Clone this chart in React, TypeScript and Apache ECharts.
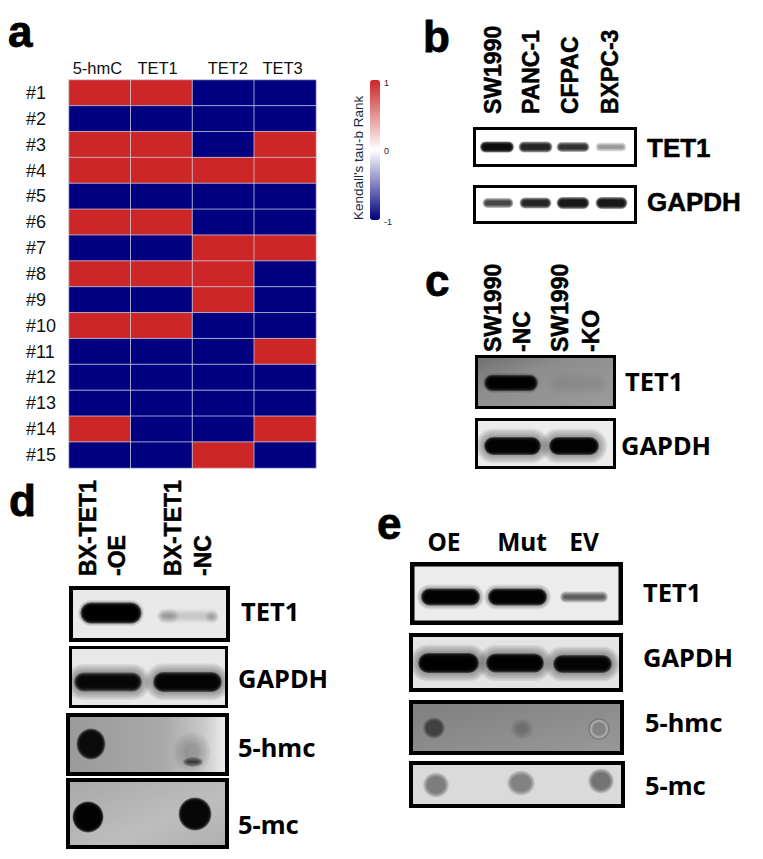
import React, { useEffect, useRef } from "react";
import * as echarts from "echarts";

// ---------- heatmap data (panel a) ----------
const sampleRows = ["#1","#2","#3","#4","#5","#6","#7","#8","#9","#10","#11","#12","#13","#14","#15"];
const markerCols = ["5-hmC", "TET1", "TET2", "TET3"];
const hmcValues = [1,-1,1,1,-1,1,-1,1,-1,1,-1,-1,-1,1,-1];
const tet1Values = [1,-1,1,1,-1,1,-1,1,-1,1,-1,-1,-1,-1,-1];
const tet2Values = [-1,-1,-1,1,-1,-1,1,1,1,-1,-1,-1,-1,-1,1];
const tet3Values = [-1,-1,1,1,-1,-1,1,-1,-1,-1,1,-1,-1,1,-1];
const colorbarTicks = ["1", "0", "-1"];

// ---------- blot signal strengths ----------
const bTet1 = [0.95, 0.85, 0.8, 0.38];
const bGapdh = [0.72, 0.85, 0.9, 0.9];
const cTet1 = [0.98, 0.07];
const cGapdh = [0.98, 0.98];
const dTet1 = [0.98, 0.14, 0.22, 0.18];
const dGapdh = [0.92, 0.96];
const dHmc = [0.92, 0.2, 0.62];
const dMc = [0.98, 0.96];
const eTet1 = [0.98, 0.98, 0.6];
const eGapdh = [0.98, 0.98, 0.96];
const eHmc = [0.5, 0.2, 0.1];
const eMc = [0.42, 0.38, 0.46];

// ---------- page layout ----------
type Mark = { x: number; y: number; w: number; h: number; soft: number; halo?: number; kind?: "spot" | "ring" };
type Panel = { frame: number[]; border: number; bg: any; values: number[]; marks: Mark[] };
const grad = (x2: number, y2: number, stops: [number, string][]) => ({
  type: "linear", x: 0, y: 0, x2, y2,
  colorStops: stops.map(([offset, color]) => ({ offset, color })),
});

const panels: Panel[] = [
  { frame: [473, 127, 637, 167], border: 3, bg: "#ffffff", values: bTet1, marks: [
    { x: 497, y: 147, w: 31, h: 8, soft: 1.5 }, { x: 535.5, y: 147, w: 31, h: 8, soft: 1.5 },
    { x: 573, y: 147, w: 30, h: 7, soft: 1.5 }, { x: 611, y: 147, w: 28, h: 6, soft: 1.5 } ] },
  { frame: [473, 185, 637, 224], border: 3, bg: "#ffffff", values: bGapdh, marks: [
    { x: 498, y: 203, w: 28, h: 7, soft: 1.5 }, { x: 535.5, y: 203, w: 29, h: 8, soft: 1.5 },
    { x: 573, y: 203, w: 30, h: 9, soft: 1.5 }, { x: 611.5, y: 203, w: 29, h: 9, soft: 1.5 } ] },
  { frame: [475, 355, 616, 409], border: 3, bg: grad(1, 1, [[0, "#6f6f6f"], [0.35, "#8d8d8d"], [1, "#9c9c9c"]]), values: cTet1, marks: [
    { x: 511, y: 383, w: 48, h: 11, soft: 2.5, halo: 3 }, { x: 578, y: 384, w: 50, h: 12, soft: 5 } ] },
  { frame: [475, 418, 616, 469], border: 3, bg: "#ececec", values: cGapdh, marks: [
    { x: 512.5, y: 446, w: 53, h: 14, soft: 2, halo: 7 }, { x: 574, y: 446, w: 46, h: 14, soft: 2, halo: 7 } ] },
  { frame: [69, 586, 230, 642], border: 4, bg: "#e9e9e9", values: dTet1, marks: [
    { x: 111, y: 613, w: 57, h: 17, soft: 2, halo: 3 }, { x: 188, y: 616, w: 56, h: 9, soft: 3 },
    { x: 168, y: 616, w: 16, h: 9, soft: 3, kind: "spot" }, { x: 212, y: 617, w: 10, h: 8, soft: 2, kind: "spot" } ] },
  { frame: [69, 646, 228, 708], border: 3, bg: "#e8e8e8", values: dGapdh, marks: [
    { x: 108, y: 682, w: 64, h: 15, soft: 2, halo: 7 }, { x: 187.5, y: 682, w: 65, h: 16, soft: 2, halo: 7 } ] },
  { frame: [66, 713, 229, 776], border: 4, bg: grad(1, 0, [[0, "#9a9a9a"], [0.6, "#a9a9a9"], [0.85, "#c8c8c8"], [1, "#efefef"]]), values: dHmc, marks: [
    { x: 91, y: 744, w: 26, h: 28, soft: 1.5, kind: "spot" },
    { x: 192, y: 752, w: 26, h: 28, soft: 6, kind: "spot" },
    { x: 193, y: 762, w: 16, h: 6, soft: 2, kind: "spot" } ] },
  { frame: [66, 778, 229, 849], border: 4, bg: grad(1, 1, [[0, "#a8a8a8"], [0.6, "#bdbdbd"], [1, "#b0b0b0"]]), values: dMc, marks: [
    { x: 88, y: 817, w: 28, h: 28, soft: 1.5, kind: "spot" }, { x: 195, y: 814, w: 30, h: 30, soft: 1.5, kind: "spot" } ] },
  { frame: [410, 562, 623, 625], border: 4.5, bg: "#ececec", values: eTet1, marks: [
    { x: 450.5, y: 597, w: 55, h: 13, soft: 2, halo: 4 }, { x: 517.5, y: 597, w: 55, h: 13, soft: 2, halo: 4 }, { x: 584, y: 597, w: 44, h: 7, soft: 2 } ] },
  { frame: [409, 633, 623, 692], border: 4, bg: "#e4e4e4", values: eGapdh, marks: [
    { x: 448.5, y: 663, w: 57, h: 16, soft: 2, halo: 7 }, { x: 515, y: 663, w: 54, h: 15, soft: 2, halo: 7 }, { x: 582.5, y: 664, w: 55, h: 14, soft: 2, halo: 7 } ] },
  { frame: [409, 700, 624, 755], border: 4, bg: grad(1, 1, [[0, "#7f7f7f"], [0.5, "#8c8c8c"], [1, "#999999"]]), values: eHmc, marks: [
    { x: 434, y: 728, w: 19, h: 18, soft: 1.5, kind: "spot" }, { x: 522, y: 729, w: 17, h: 15, soft: 3, kind: "spot" },
    { x: 599, y: 729, w: 16, h: 16, soft: 1, kind: "ring" } ] },
  { frame: [409, 761, 625, 808], border: 4, bg: "#dadada", values: eMc, marks: [
    { x: 436, y: 785, w: 22, h: 21, soft: 2, kind: "spot" }, { x: 521, y: 783, w: 24, h: 21, soft: 2, kind: "spot" },
    { x: 601, y: 781, w: 22, h: 21, soft: 2, kind: "spot" } ] },
];

const arial = "Liberation Sans, Arial, sans-serif";
const tahoma = "Noto Sans, DejaVu Sans, sans-serif";

const panelLetters: [string, number, number][] = [["a", 8, 53], ["b", 423, 58], ["c", 425, 302], ["d", 9, 522], ["e", 377, 545]];
const laneLabels: [string, number, number][] = [
  ["SW1990", 493, 114], ["PANC-1", 531, 114], ["CFPAC", 570, 114], ["BXPC-3", 610, 114],
  ["SW1990", 493, 352], ["-NC", 522, 352], ["SW1990", 560, 352], ["-KO", 591, 352],
  ["BX-TET1", 88, 576], ["-OE", 117, 576], ["BX-TET1", 173, 576], ["-NC", 203, 576],
];
const sideLabelsB: [string, number, number][] = [["TET1", 647, 148], ["GAPDH", 647, 202]];
const sideLabels: [string, number, number][] = [
  ["TET1", 625, 381], ["GAPDH", 621, 445],
  ["TET1", 241, 611], ["GAPDH", 238, 678], ["5-hmc", 238, 747], ["5-mc", 238, 824],
  ["TET1", 643, 592], ["GAPDH", 643, 657], ["5-hmc", 645, 722], ["5-mc", 645, 785],
];
const topLabels: [string, number, number][] = [["OE", 444, 541], ["Mut", 522, 541], ["EV", 584, 541]];
const colorbarTickY = [83, 151, 222];

const LAYERS = 6;

function softLayers(kind: string | undefined, cx: number, cy: number, w: number, h: number, soft: number, a: number, layers = LAYERS) {
  const perLayer = 1 - Math.pow(1 - Math.min(a, 0.985), 1 / layers);
  const fill = `rgba(0,0,0,${perLayer})`;
  const out: any[] = [];
  for (let k = 0; k < layers; k++) {
    const e = soft * (1 - (2 * k) / (layers - 1));
    const lw = Math.max(1, w + 2 * e);
    const lh = Math.max(1, h + 2 * e);
    if (kind === "spot") {
      out.push({ type: "ellipse", shape: { cx, cy, rx: lw / 2, ry: lh / 2 }, style: { fill } });
    } else {
      out.push({ type: "rect", shape: { x: cx - lw / 2, y: cy - lh / 2, width: lw, height: lh, r: lh / 2 }, style: { fill } });
    }
  }
  return out;
}

function buildOption() {
  const cols = [hmcValues, tet1Values, tet2Values, tet3Values];
  const heat: number[][] = [];
  cols.forEach((col, c) => col.forEach((v, r) => heat.push([c, r, v])));

  const grid: any[] = [{ left: 69, top: 80, width: 247, height: 388, show: false }];
  const xAxis: any[] = [{
    type: "category", gridIndex: 0, position: "top",
    data: [
      { value: markerCols[0], textStyle: { padding: [0, 5, 0, 0] } },
      { value: markerCols[1], textStyle: { padding: [0, 8, 0, 0] } },
      { value: markerCols[2], textStyle: { padding: [0, 0, 0, 9] } },
      { value: markerCols[3], textStyle: { padding: [0, 5, 0, 0] } },
    ],
    axisLine: { show: false }, axisTick: { show: false }, splitLine: { show: false },
    axisLabel: { margin: 4, fontSize: 16.5, color: "#111", fontFamily: arial, interval: 0 },
  }];
  const yAxis: any[] = [{
    type: "category", gridIndex: 0, inverse: true, data: sampleRows,
    axisLine: { show: false }, axisTick: { show: false }, splitLine: { show: false },
    axisLabel: { margin: 43, align: "left", fontSize: 18, color: "#111", fontFamily: arial, interval: 0 },
  }];
  const series: any[] = [{
    type: "heatmap", xAxisIndex: 0, yAxisIndex: 0, data: heat,
    itemStyle: { borderColor: "rgba(205,205,225,0.75)", borderWidth: 1 },
    emphasis: { disabled: true },
  }];

  panels.forEach((p, i) => {
    const [l, t, r, b] = p.frame;
    const hb = p.border / 2;
    grid.push({
      left: l + hb, top: t + hb, width: r - l - p.border, height: b - t - p.border,
      show: true, backgroundColor: p.bg, borderColor: "#000", borderWidth: p.border,
    });
    xAxis.push({ type: "value", gridIndex: i + 1, min: l + hb, max: r - hb, show: false });
    yAxis.push({ type: "value", gridIndex: i + 1, min: t + hb, max: b - hb, inverse: true, show: false });
    series.push({
      type: "custom", xAxisIndex: i + 1, yAxisIndex: i + 1, clip: true,
      data: p.values.map((v, k) => [p.marks[k].x, p.marks[k].y, v]),
      renderItem: (params: any, api: any) => {
        const m = p.marks[params.dataIndex];
        const [cx, cy] = api.coord([api.value(0), api.value(1)]);
        const a = api.value(2);
        if (m.kind === "ring") {
          return { type: "group", children: [
            { type: "ellipse", shape: { cx, cy, rx: m.w / 2 + 2, ry: m.h / 2 + 2 }, style: { fill: "rgba(0,0,0,0)", stroke: "rgba(60,60,60,0.25)", lineWidth: 1.5 } },
            { type: "ellipse", shape: { cx, cy, rx: m.w / 2, ry: m.h / 2 }, style: { fill: `rgba(0,0,0,${a})`, stroke: "rgba(215,215,215,0.35)", lineWidth: 2.5 } },
          ] };
        }
        const halo = m.halo ? softLayers(m.kind, cx, cy, m.w + m.halo, m.h + m.halo, m.halo, 0.5, 10) : [];
        return { type: "group", children: [...halo, ...softLayers(m.kind, cx, cy, m.w, m.h, m.soft, a)] };
      },
    });
  });

  const txt = (text: string, x: number, y: number, fontSize: number, fontFamily: string, fontWeight: any, extra: any = {}) => ({
    type: "text", x, y, ...extra.el,
    style: { text, fontSize, fontFamily, fontWeight, fill: extra.fill ?? "#000", textAlign: extra.align ?? "left", textVerticalAlign: extra.va ?? "middle", textBaseline: extra.va ?? "middle", ...(extra.bold ? { stroke: "#000", lineWidth: extra.bold } : {}) },
  });
  const graphic: any[] = [
    ...panelLetters.map(([s, x, y]) => txt(s, x, y, 44, arial, "bold", { va: "bottom", bold: 0.8 })),
    ...laneLabels.map(([s, x, y]) => txt(s, x, y, 23, arial, "bold", { el: { rotation: Math.PI / 2 }, bold: 0.5 })),
    ...sideLabelsB.map(([s, x, y]) => txt(s, x, y, 26, arial, "bold", { bold: 0.5 })),
    ...sideLabels.map(([s, x, y]) => txt(s, x, y, 25.5, tahoma, "bold")),
    ...topLabels.map(([s, x, y]) => txt(s, x, y, 24.5, tahoma, "bold", { align: "center" })),
    txt("Kendall's tau-b Rank", 358, 220, 13.5, arial, "normal", { el: { rotation: Math.PI / 2 }, fill: "#1a2a40" }),
    ...colorbarTicks.map((s, i) => txt(s, 384, colorbarTickY[i], 9, arial, "normal", { fill: "#223" })),
  ];

  return {
    animation: false,
    backgroundColor: "#ffffff",
    grid, xAxis, yAxis, series, graphic,
    visualMap: {
      type: "continuous", seriesIndex: 0, min: -1, max: 1, left: 370, top: 80,
      itemWidth: 10, itemHeight: 140, calculable: false, showLabel: false, text: ["", ""],
      realtime: false, hoverLink: false, padding: 0,
      inRange: { color: ["#000080", "#ffffff", "#cc2626"] },
    },
  };
}

export default function App() {
  const ref = useRef<HTMLDivElement>(null);
  useEffect(() => {
    const chart = echarts.init(ref.current!, undefined, { renderer: "svg" });
    chart.setOption(buildOption() as any);
    return () => chart.dispose();
  }, []);
  return <div ref={ref} style={{ position: "absolute", left: 0, top: 0, width: 763, height: 859 }} />;
}
